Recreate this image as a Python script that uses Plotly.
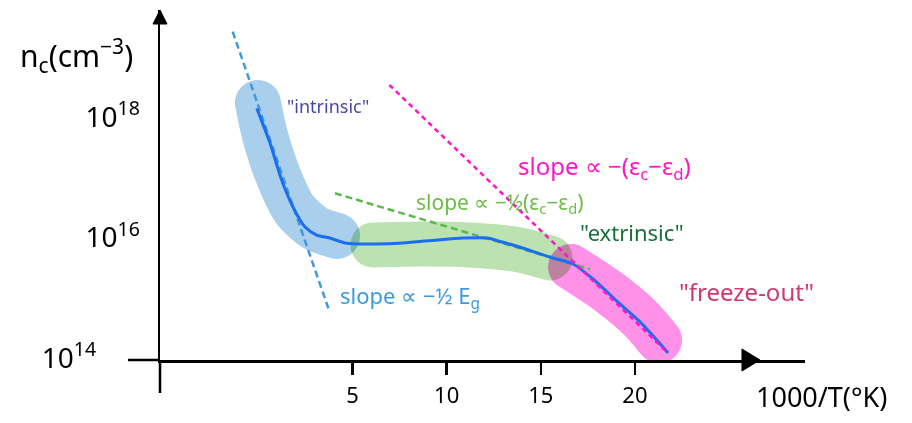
import plotly.graph_objects as go

# ---- data ----
# main curve: 1000/T vs n_c (cm^-3)
curve_x = [-0.08, 0.62, 1.24, 1.84, 2.48, 3.10, 3.80, 4.69, 6.20, 7.68, 9.49,
           10.87, 12.15, 12.85, 13.90, 15.65, 16.71, 17.77, 19.04, 20.27, 21.76]
curve_n = [1.39e18, 3.70e17, 9.0e16, 3.21e16, 1.49e16, 1.10e16, 9.8e15, 8.0e15,
           7.8e15, 8.1e15, 9.1e15, 9.8e15, 9.8e15, 8.6e15, 6.9e15, 4.57e15,
           3.63e15, 2.05e15, 8.8e14, 3.97e14, 1.21e14]

# highlighted regimes
intrinsic_x = [-0.02, 0.35, 1.15, 1.95, 3.01, 4.18]
intrinsic_n = [1.71e18, 5.02e17, 9.0e16, 2.86e16, 1.44e16, 1.06e16]
extrinsic_x = [6.09, 8.59, 11.24, 13.90, 15.49]
extrinsic_n = [7.5e15, 7.8e15, 7.5e15, 6.2e15, 4.57e15]
freeze_x = [16.61, 18.68, 20.27, 21.28]
freeze_n = [3.24e15, 1.20e15, 4.61e14, 1.99e14]

# asymptotic slope lines
slope_eg_x = [-1.36, 3.72]
slope_eg_n = [2.61e19, 6.68e14]
slope_half_x = [4.07, 17.62]
slope_half_n = [5.42e16, 2.97e15]
slope_full_x = [6.96, 21.70]
slope_full_n = [3.40e18, 1.26e14]

x_ticks = [5, 10, 15, 20]
y_ticks = [1e14, 1e16, 1e18]
y_ticktext = ["10<sup>14</sup>" + "\u00a0" * 6, "10<sup>16</sup>", "10<sup>18</sup>"]

FONT = "Noto Sans"

fig = go.Figure()

def band(xs, ns, color, width=45):
    fig.add_trace(go.Scatter(
        x=xs, y=ns, mode="lines",
        line=dict(color=color, width=width, shape="spline", smoothing=0.8),
        hoverinfo="skip", showlegend=False))

band(intrinsic_x, intrinsic_n, "rgb(170,207,237)", 46)
band(extrinsic_x, extrinsic_n, "rgb(189,226,177)", 45)
band(freeze_x, freeze_n, "rgb(255,145,232)", 46)

fig.add_trace(go.Scatter(x=slope_eg_x, y=slope_eg_n, mode="lines",
                         line=dict(color="#3d9ae0", width=2.5, dash="7px,4px"),
                         hoverinfo="skip", showlegend=False))
fig.add_trace(go.Scatter(x=slope_half_x, y=slope_half_n, mode="lines",
                         line=dict(color="#5db84a", width=2.5, dash="7px,4px"),
                         hoverinfo="skip", showlegend=False))
fig.add_trace(go.Scatter(x=curve_x, y=curve_n, mode="lines",
                         line=dict(color="#1a6ef0", width=3, shape="spline", smoothing=0.7),
                         hoverinfo="skip", showlegend=False))
fig.add_trace(go.Scatter(x=slope_full_x, y=slope_full_n, mode="lines",
                         line=dict(color="#ff14c8", width=2.5, dash="5px,4px"),
                         hoverinfo="skip", showlegend=False))

def label(text, x, logy, color, size):
    fig.add_annotation(x=x, y=logy, xref="x", yref="y", text=text, showarrow=False,
                       xanchor="center", yanchor="middle",
                       font=dict(family=FONT, size=size, color=color))

label("\"intrinsic\"", 3.71, 18.18, "#4646aa", 18)
label("slope ∝ −½ E<sub>g</sub>", 8.06, 15.01, "#3a9ae0", 22)
label("slope ∝ −½(ε<sub>c</sub>−ε<sub>d</sub>)", 12.84, 16.58, "#6cbd45", 21)
label("slope ∝ −(ε<sub>c</sub>−ε<sub>d</sub>)", 18.36, 17.17, "#ff14c8", 24)
label("\"extrinsic\"", 19.85, 16.09, "#17703a", 22)
label("\"freeze-out\"", 25.9, 15.11, "#d2386e", 24)

fig.add_annotation(x=-0.1287, y=0.871, xref="paper", yref="paper",
                   xanchor="center", yanchor="middle",
                   text="n<sub>c</sub>(cm<sup>−3</sup>)", showarrow=False,
                   font=dict(family=FONT, size=30, color="black"))
fig.add_annotation(x=1.026, y=-0.1057, xref="paper", yref="paper",
                   xanchor="center", yanchor="middle",
                   text="1000/T(°K)", showarrow=False,
                   font=dict(family=FONT, size=27, color="black"))

# axis overshoots and arrowheads
axis_line = dict(color="black", width=2.5)
fig.add_shape(type="line", xref="paper", yref="paper", x0=-0.0496, y0=0, x1=0, y1=0,
              line=axis_line)
fig.add_shape(type="line", xref="paper", yref="paper", x0=0, y0=-0.0943, x1=0, y1=0,
              line=axis_line)
fig.add_shape(type="path", xref="paper", yref="paper",
              path="M 0.9023,0.0314 L 0.9302,0 L 0.9023,-0.0314 Z",
              fillcolor="black", line=dict(color="black", width=1))
fig.add_shape(type="path", xref="paper", yref="paper",
              path="M -0.01085,0.96 L 0,1.0 L 0.01085,0.96 Z",
              fillcolor="black", line=dict(color="black", width=1))

fig.update_layout(
    width=912, height=423,
    margin=dict(l=160, r=107, t=10, b=63),
    paper_bgcolor="white", plot_bgcolor="white",
    showlegend=False,
    xaxis=dict(range=[-5.22, 29.03], showgrid=False, zeroline=False,
               showline=True, linecolor="black", linewidth=2.5,
               tickmode="array", tickvals=x_ticks, ticks="outside", ticklen=12,
               tickwidth=2.5, tickcolor="black", ticklabelstandoff=2,
               tickfont=dict(family=FONT, size=22, color="black")),
    yaxis=dict(type="log", range=[13.967, 19.776], showgrid=False, zeroline=False,
               showline=True, linecolor="black", linewidth=2.5,
               tickmode="array", tickvals=y_ticks, ticktext=y_ticktext,
               ticks="", ticklabelstandoff=12,
               tickfont=dict(family=FONT, size=28, color="black")),
)

post = """
document.body.style.margin='0';
document.body.style.overflow='hidden';
var gd = document.getElementById('{plot_id}');
function roundBands(){
  gd.querySelectorAll('path.js-line').forEach(function(p){
    if (parseFloat(p.style.strokeWidth) > 20) {
      p.style.strokeLinecap = 'round';
      p.style.strokeLinejoin = 'round';
      p.style.mixBlendMode = 'multiply';
      var g = p.closest('g.trace');
      if (g) { g.style.mixBlendMode = 'multiply'; }
    }
  });
}
roundBands();
if (gd.on) { gd.on('plotly_afterplot', roundBands); }
"""

fig.write_html("out.html", post_script=post,
               config={"displayModeBar": False, "staticPlot": True})
